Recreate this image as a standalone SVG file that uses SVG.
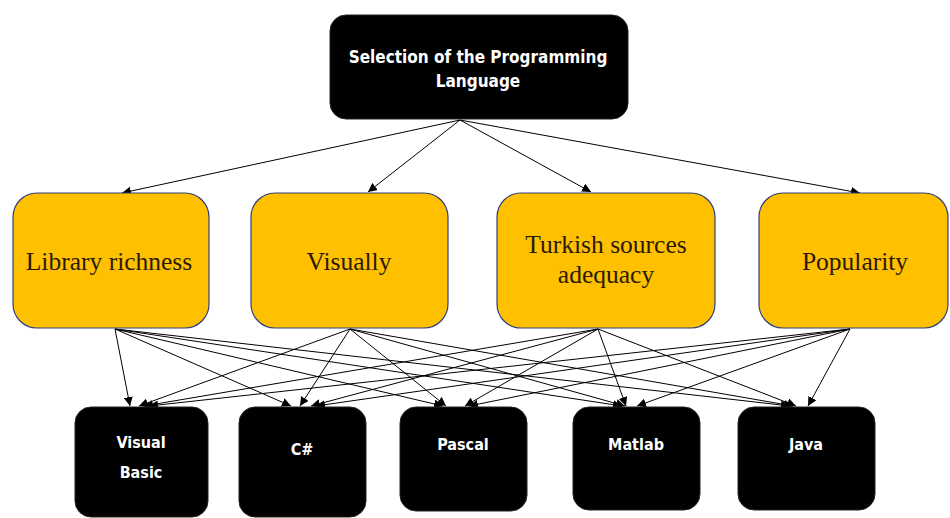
<svg xmlns="http://www.w3.org/2000/svg" width="950" height="518" viewBox="0 0 950 518">
<defs>
<marker id="ah" viewBox="0 0 10 10" refX="10" refY="5" markerWidth="9" markerHeight="9" markerUnits="userSpaceOnUse" orient="auto">
<path d="M0,0 L10,5 L0,10 z" fill="#000"/>
</marker>
<style>
.dark{fill:#000;stroke:#222;stroke-width:1}
.crit{fill:#FFC000;stroke:#2F3F7F;stroke-width:1.2}
.wt{fill:#fff;font-family:"DejaVu Sans Condensed","DejaVu Sans",sans-serif;font-weight:bold;font-size:16px;text-anchor:middle}
.tt{font-size:17px}
.st{fill:#2a1a05;font-family:"Liberation Serif","Times New Roman",serif;font-size:25.5px;text-anchor:middle}
.e{stroke:#000;stroke-width:1;fill:none;marker-end:url(#ah)}
</style>
</defs>
<rect width="950" height="518" fill="#fff"/>
<g id="connectors">
<line class="e" x1="460" y1="120" x2="122" y2="193"/>
<line class="e" x1="460" y1="120" x2="368" y2="192"/>
<line class="e" x1="460" y1="120" x2="591" y2="192"/>
<line class="e" x1="460" y1="120" x2="860" y2="193"/>
<line class="e" x1="115" y1="329" x2="130" y2="406"/>
<line class="e" x1="115" y1="329" x2="291" y2="406"/>
<line class="e" x1="115" y1="329" x2="443" y2="406"/>
<line class="e" x1="115" y1="329" x2="622" y2="406"/>
<line class="e" x1="115" y1="329" x2="790" y2="406"/>
<line class="e" x1="350" y1="329" x2="139" y2="406"/>
<line class="e" x1="350" y1="329" x2="300" y2="406"/>
<line class="e" x1="350" y1="329" x2="446" y2="406"/>
<line class="e" x1="350" y1="329" x2="625" y2="406"/>
<line class="e" x1="350" y1="329" x2="793" y2="406"/>
<line class="e" x1="598" y1="329" x2="144" y2="406"/>
<line class="e" x1="598" y1="329" x2="311" y2="406"/>
<line class="e" x1="598" y1="329" x2="465" y2="406"/>
<line class="e" x1="598" y1="329" x2="626" y2="406"/>
<line class="e" x1="598" y1="329" x2="796" y2="406"/>
<line class="e" x1="850" y1="329" x2="149" y2="406"/>
<line class="e" x1="850" y1="329" x2="316" y2="406"/>
<line class="e" x1="850" y1="329" x2="469" y2="406"/>
<line class="e" x1="850" y1="329" x2="637" y2="406"/>
<line class="e" x1="850" y1="329" x2="808" y2="406"/>
</g>
<g id="goal">
<rect class="dark" x="330" y="15" width="298" height="104" rx="16"/>
<text class="wt tt" x="478" y="63">Selection of the Programming</text>
<text class="wt tt" x="478" y="87">Language</text>
</g>
<g id="library">
<rect class="crit" x="13" y="193" width="196" height="135" rx="24"/>
<text class="st" x="109" y="270">Library richness</text>
</g>
<g id="visually">
<rect class="crit" x="251" y="193" width="197" height="135" rx="24"/>
<text class="st" x="349" y="270">Visually</text>
</g>
<g id="turkish">
<rect class="crit" x="497" y="193" width="218" height="135" rx="24"/>
<text class="st" x="606" y="253">Turkish sources</text>
<text class="st" x="606" y="283">adequacy</text>
</g>
<g id="popularity">
<rect class="crit" x="759" y="193" width="189" height="135" rx="24"/>
<text class="st" x="855" y="270">Popularity</text>
</g>
<g id="vb">
<rect class="dark" x="75" y="407" width="133" height="110" rx="16"/>
<text class="wt" x="141" y="448">Visual</text>
<text class="wt" x="141" y="478">Basic</text>
</g>
<g id="csharp">
<rect class="dark" x="239" y="407" width="127" height="110" rx="16"/>
<text class="wt" x="302" y="455">C#</text>
</g>
<g id="pascal">
<rect class="dark" x="400" y="407" width="127" height="104" rx="16"/>
<text class="wt" x="463" y="450">Pascal</text>
</g>
<g id="matlab">
<rect class="dark" x="573" y="407" width="127" height="103" rx="16"/>
<text class="wt" x="636" y="450">Matlab</text>
</g>
<g id="java">
<rect class="dark" x="738" y="407" width="137" height="103" rx="16"/>
<text class="wt" x="806" y="450">Java</text>
</g>
</svg>
